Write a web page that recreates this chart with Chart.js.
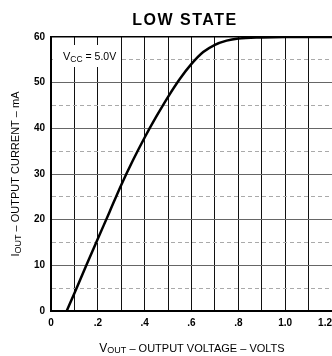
<!DOCTYPE html>
<html>
<head>
<meta charset="utf-8">
<script src="https://cdn.jsdelivr.net/npm/chart.js@4/dist/chart.umd.min.js"></script>
<style>
  html, body { margin: 0; padding: 0; background: #fff; overflow: hidden; }
  #wrap { width: 332px; height: 356px; }
</style>
</head>
<body>
<div id="wrap"><canvas id="low-chart" width="332" height="356"></canvas></div>
<script>
// values
var voltage = [0.067, 0.10, 0.15, 0.20, 0.25, 0.30, 0.35, 0.40, 0.45, 0.50, 0.55, 0.60, 0.65, 0.70, 0.75, 0.80, 0.90, 1.00, 1.10, 1.20];
var current = [0, 3.9, 9.9, 15.8, 21.7, 27.6, 33.0, 38.0, 42.6, 46.9, 50.8, 54.1, 56.7, 58.3, 59.2, 59.65, 59.9, 60, 60, 60];

var xTickLabels = ['0', '.2', '.4', '.6', '.8', '1.0', '1.2'];
var yTickLabels = ['0', '10', '20', '30', '40', '50', '60'];

var chartTitle = 'LOW STATE';
var xTitle = [['V', 12, 0], ['OUT', 9, 1.5], [' \u2013 OUTPUT VOLTAGE \u2013 VOLTS', 11, 0]];
var yTitle = [['I', 11, 0], ['OUT', 9, 1.5], [' \u2013 OUTPUT CURRENT \u2013 mA', 11, 0]];
var noteText = [['V', 11, 0], ['CC', 8.5, 2.5], [' = 5.0V', 10.5, 0]];

var points = [];
for (var i = 0; i < voltage.length; i++) {
    points.push({x: voltage[i], y: current[i]});
}

// draws a run of text pieces (with subscripts) on one baseline
function drawPieces(ctx, pieces, x, y, align) {
    var total = 0;
    pieces.forEach(function(p) {
        ctx.font = p[1] + 'px "Liberation Sans", Arial, sans-serif';
        total += ctx.measureText(p[0]).width;
    });
    var cx = align === 'center' ? x - total / 2 : x;
    pieces.forEach(function(p) {
        ctx.font = p[1] + 'px "Liberation Sans", Arial, sans-serif';
        ctx.fillText(p[0], cx, y + p[2]);
        cx += ctx.measureText(p[0]).width;
    });
}

var textPlugin = {
    id: 'texts',
    beforeDatasetsDraw: function(chart) {
        var ctx = chart.ctx;
        var area = chart.chartArea;
        ctx.save();
        // white box behind the Vcc note
        ctx.fillStyle = '#fff';
        ctx.fillRect(area.left + 2, 45, 66, 22);
        ctx.fillStyle = '#000';
        ctx.textAlign = 'left';
        ctx.textBaseline = 'alphabetic';
        drawPieces(ctx, noteText, 63, 59.5, 'left');
        ctx.restore();
    },
    afterDraw: function(chart) {
        var ctx = chart.ctx;
        ctx.save();
        ctx.fillStyle = '#000';
        ctx.textBaseline = 'alphabetic';
        ctx.textAlign = 'left';

        ctx.font = 'bold 16px "Liberation Sans", Arial, sans-serif';
        ctx.letterSpacing = '1.5px';
        var w = ctx.measureText(chartTitle).width;
        ctx.fillText(chartTitle, 185 - w / 2, 24.5);
        ctx.letterSpacing = '0px';

        drawPieces(ctx, xTitle, 192, 351.5, 'center');

        ctx.translate(19, 174);
        ctx.rotate(-Math.PI / 2);
        drawPieces(ctx, yTitle, 0, 0, 'center');
        ctx.restore();
    }
};

var ctx = document.getElementById('low-chart');
var lowChart = new Chart(ctx, {
    type: 'line',
    data: {
        datasets: [{
            data: points,
            borderColor: '#000',
            borderWidth: 2.5,
            pointRadius: 0,
            fill: false,
            cubicInterpolationMode: 'monotone'
        }]
    },
    options: {
        responsive: false,
        animation: false,
        layout: { padding: { top: 37, left: 0, right: 0, bottom: 0 } },
        plugins: {
            legend: { display: false },
            tooltip: { enabled: false }
        },
        scales: {
            x: {
                type: 'linear',
                min: 0,
                max: 1.2,
                afterFit: function(scale) {
                    scale.height = 45;
                    scale.paddingRight = 0;
                    scale.paddingLeft = 0;
                },
                ticks: {
                    stepSize: 0.1,
                    autoSkip: false,
                    maxRotation: 0,
                    padding: 6,
                    color: '#000',
                    font: { family: '"Liberation Sans", Arial, sans-serif', size: 10, weight: 'bold' },
                    callback: function(value) {
                        var n = Math.round(value * 10);
                        if (n % 2 !== 0) return '';
                        var label = xTickLabels[n / 2];
                        // last label sits at the page edge, shift it inward
                        if (n === 12) return label + '     ';
                        return label;
                    }
                },
                grid: {
                    drawTicks: false,
                    color: '#111',
                    lineWidth: 1
                },
                border: { color: '#000', width: 2 }
            },
            y: {
                min: 0,
                max: 60,
                afterFit: function(scale) {
                    scale.width = 51;
                },
                ticks: {
                    stepSize: 5,
                    autoSkip: false,
                    padding: 6,
                    color: '#000',
                    font: { family: '"Liberation Sans", Arial, sans-serif', size: 10, weight: 'bold' },
                    callback: function(value) {
                        if (value % 10 !== 0) return '';
                        return yTickLabels[value / 10];
                    }
                },
                grid: {
                    drawTicks: false,
                    color: function(c) {
                        if (!c.tick) return '#000';
                        if (c.tick.value === 60) return '#000';
                        return c.tick.value % 10 === 0 ? '#666' : '#aaa';
                    },
                    lineWidth: function(c) {
                        if (c.tick && c.tick.value === 60) return 1.5;
                        return 1;
                    }
                },
                border: {
                    color: '#000',
                    width: 2,
                    dash: function(c) {
                        if (c.tick && c.tick.value % 10 !== 0) return [4, 3];
                        return [];
                    }
                }
            }
        }
    },
    plugins: [textPlugin]
});
</script>
</body>
</html>
